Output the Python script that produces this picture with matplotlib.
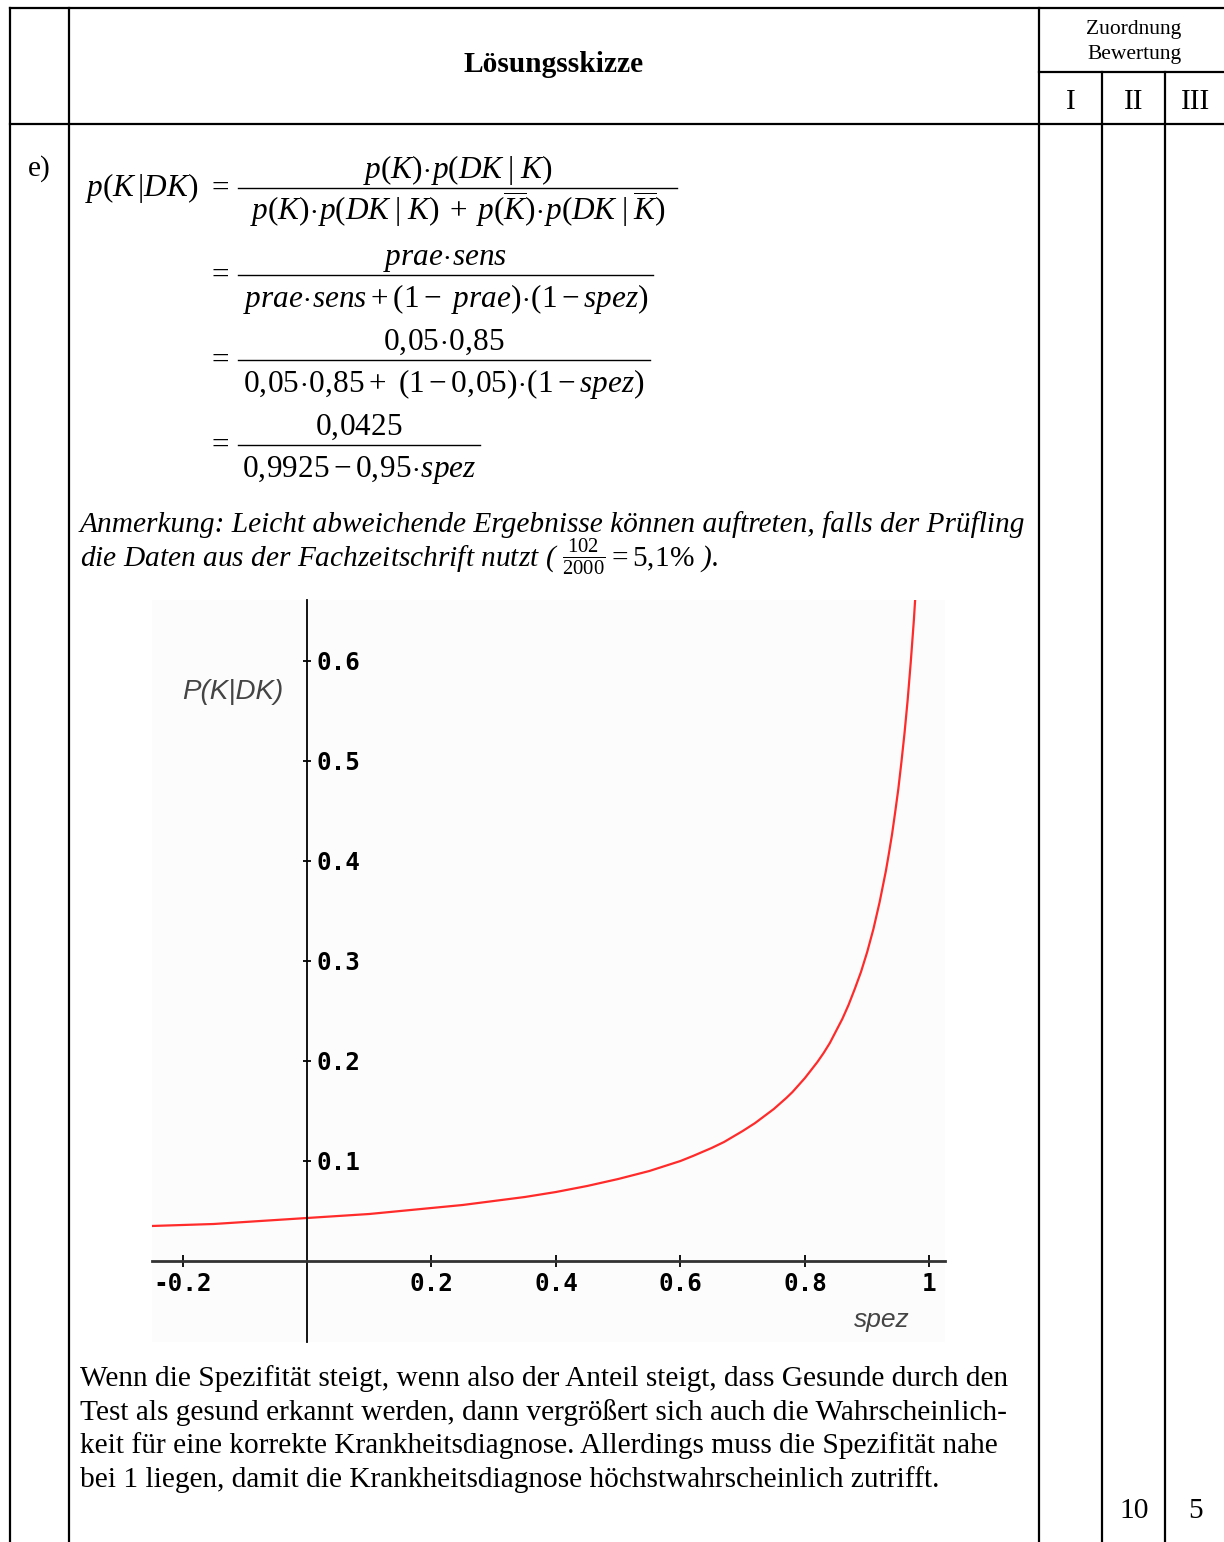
import matplotlib
matplotlib.use("Agg")
import matplotlib.pyplot as plt
from matplotlib.lines import Line2D

plt.rcParams['font.family'] = ['Liberation Serif', 'DejaVu Serif']
plt.rcParams['mathtext.fontset'] = 'custom'
plt.rcParams['mathtext.rm'] = 'Liberation Serif'
plt.rcParams['mathtext.it'] = 'Liberation Serif:italic'
plt.rcParams['mathtext.bf'] = 'Liberation Serif:bold'

spez = [-0.25, -0.2, -0.15, -0.1, -0.05, 0.0, 0.05, 0.1, 0.15, 0.2, 0.25,
        0.3, 0.35, 0.4, 0.45, 0.5, 0.55, 0.6, 0.62, 0.65, 0.67, 0.7, 0.72,
        0.75, 0.77, 0.78, 0.8, 0.82, 0.83, 0.84, 0.85, 0.86, 0.87, 0.88,
        0.89, 0.9, 0.91, 0.92, 0.93, 0.935, 0.94, 0.945, 0.95, 0.955, 0.96,
        0.965, 0.97, 0.975, 0.98]
p_k_dk = [0.035, 0.036, 0.037, 0.039, 0.041, 0.043, 0.045, 0.047, 0.050,
          0.053, 0.056, 0.060, 0.064, 0.069, 0.075, 0.082, 0.090, 0.100,
          0.105, 0.113, 0.119, 0.130, 0.138, 0.152, 0.163, 0.169, 0.183,
          0.199, 0.208, 0.218, 0.230, 0.242, 0.256, 0.272, 0.289, 0.309,
          0.332, 0.359, 0.390, 0.408, 0.427, 0.449, 0.472, 0.499, 0.528,
          0.561, 0.599, 0.641, 0.691]

x_ticks = [-0.2, 0.2, 0.4, 0.6, 0.8, 1.0]
x_labels = ["-0.2", "0.2", "0.4", "0.6", "0.8", "1"]
y_ticks = [0.1, 0.2, 0.3, 0.4, 0.5, 0.6]
y_labels = ["0.1", "0.2", "0.3", "0.4", "0.5", "0.6"]

W, H = 1224, 1542
fig = plt.figure(figsize=(W / 100, H / 100), dpi=100)


def fx(px):
    return px / W


def fy(py):
    return 1 - py / H


def line(x0, y0, x1, y1, lw=1.6):
    fig.add_artist(Line2D([fx(x0), fx(x1)], [fy(y0), fy(y1)],
                          transform=fig.transFigure, color='black', lw=lw))


def txt(x, y, s, **kw):
    fig.text(fx(x), fy(y), s, **kw)


# =====================================
# table frame
# =====================================

line(10, 8, W, 8)
line(10, 124, W, 124)
line(1039, 72, W, 72)
for x in [10, 69, 1039]:
    line(x, 8, x, H)
for x in [1102, 1165]:
    line(x, 72, x, H)

body_fs = 21.2

txt(554, 72, "Lösungsskizze", ha='center', va='baseline',
    fontsize=body_fs, fontweight='bold')
txt(1134, 34, "Zuordnung", ha='center', va='baseline', fontsize=15.5)
txt(1134, 59, "Bewertung", ha='center', va='baseline', fontsize=15.5)
for x, s in [(1071, "I"), (1134, "II"), (1196, "III")]:
    txt(x, 109, s, ha='center', va='baseline', fontsize=body_fs)

txt(28, 176, "e)", ha='left', va='baseline', fontsize=body_fs)

# =====================================
# formulas
# =====================================

fs = 22.5
txt(85, 188, r"$p(K\,|DK)$", ha='left', va='center', fontsize=fs)

rows = [
    (188, 238, 677,
     r"$p(K)\!\cdot\! p(DK\;|\;K)$",
     r"$p(K)\!\cdot\! p(DK\;|\;K)\;+\;p(\overline{K})\!\cdot\! p(DK\;|\;\overline{K})$"),
    (275, 238, 653,
     r"$prae\!\cdot\! sens + (1 -\ prae)\!\cdot\!(1 - spez)$"),
    (360, 238, 650,
     r"$0,\!05\!\cdot\! 0,\!85$",
     r"$0,\!05\!\cdot\! 0,\!85 +\ (1 - 0,\!05)\!\cdot\!(1 - spez)$"),
    (445, 238, 480,
     r"$0,\!0425$",
     r"$0,\!9925 - 0,\!95\!\cdot\! spez$"),
]
rows[1] = (275, 238, 653, r"$prae\!\cdot\! sens$", rows[1][3])
for ybar, x0, x1, num, den in rows:
    txt(218, ybar, r"$=$", ha='center', va='center', fontsize=fs)
    line(x0, ybar, x1, ybar, lw=1.0)
    xc = (x0 + x1) / 2
    txt(xc, ybar - 10, num, ha='center', va='baseline', fontsize=fs)
    txt(xc, ybar + 32, den, ha='center', va='baseline', fontsize=fs)

txt(80, 532, "Anmerkung: Leicht abweichende Ergebnisse können auftreten, "
    "falls der Prüfling", ha='left', va='baseline', fontsize=body_fs,
    fontstyle='italic')
txt(80, 567, r"die Daten aus der Fachzeitschrift nutzt ( "
    r"$\frac{102}{2000} = 5,\!1\%$ ).", ha='left', va='baseline',
    fontsize=body_fs, fontstyle='italic')

# =====================================
# chart
# =====================================

ax = fig.add_axes([fx(152), fy(1342), (945 - 152) / W, (1342 - 600) / H])
ax.set_facecolor('#fcfcfc')
ax.set_xlim(-0.249, 1.025)
ax.set_ylim(-0.081, 0.661)

ax.plot(spez, p_k_dk, color='#ff2b2b', lw=1.6, clip_on=True)

for side in ['top', 'right']:
    ax.spines[side].set_visible(False)
ax.spines['left'].set_position(('data', 0))
ax.spines['bottom'].set_position(('data', 0))
ax.spines['left'].set_linewidth(1.3)
ax.spines['bottom'].set_linewidth(2.0)
ax.spines['bottom'].set_color('#333333')

mono = dict(family='DejaVu Sans Mono', weight='bold', size=17.5)

ax.set_xticks(x_ticks, x_labels, fontdict=mono)
ax.set_yticks(y_ticks, y_labels, fontdict=mono)
for lbl in ax.get_yticklabels():
    lbl.set_horizontalalignment('left')
ax.tick_params(axis='x', direction='inout', length=8, width=1.3, pad=4)
ax.tick_params(axis='y', direction='inout', length=6, width=1.3, pad=-10)

ax.text(-0.119, 0.569, "P(K|DK)", ha='center', va='center',
        family='Liberation Sans', style='italic', size=20, color='#444444')
ax.text(0.924, -0.059, "spez", ha='center', va='center',
        family='Liberation Sans', style='italic', size=19, color='#444444')

# =====================================
# conclusion text
# =====================================

body = [
    "Wenn die Spezifität steigt, wenn also der Anteil steigt, dass Gesunde durch den",
    "Test als gesund erkannt werden, dann vergrößert sich auch die Wahrscheinlich-",
    "keit für eine korrekte Krankheitsdiagnose. Allerdings muss die Spezifität nahe",
    "bei 1 liegen, damit die Krankheitsdiagnose höchstwahrscheinlich zutrifft.",
]
for i, s in enumerate(body):
    txt(80, 1386 + i * 33.7, s, ha='left', va='baseline', fontsize=body_fs)

txt(1134, 1518, "10", ha='center', va='baseline', fontsize=body_fs)
txt(1196, 1518, "5", ha='center', va='baseline', fontsize=body_fs)

fig.savefig("out.png", dpi=100, facecolor='white')
